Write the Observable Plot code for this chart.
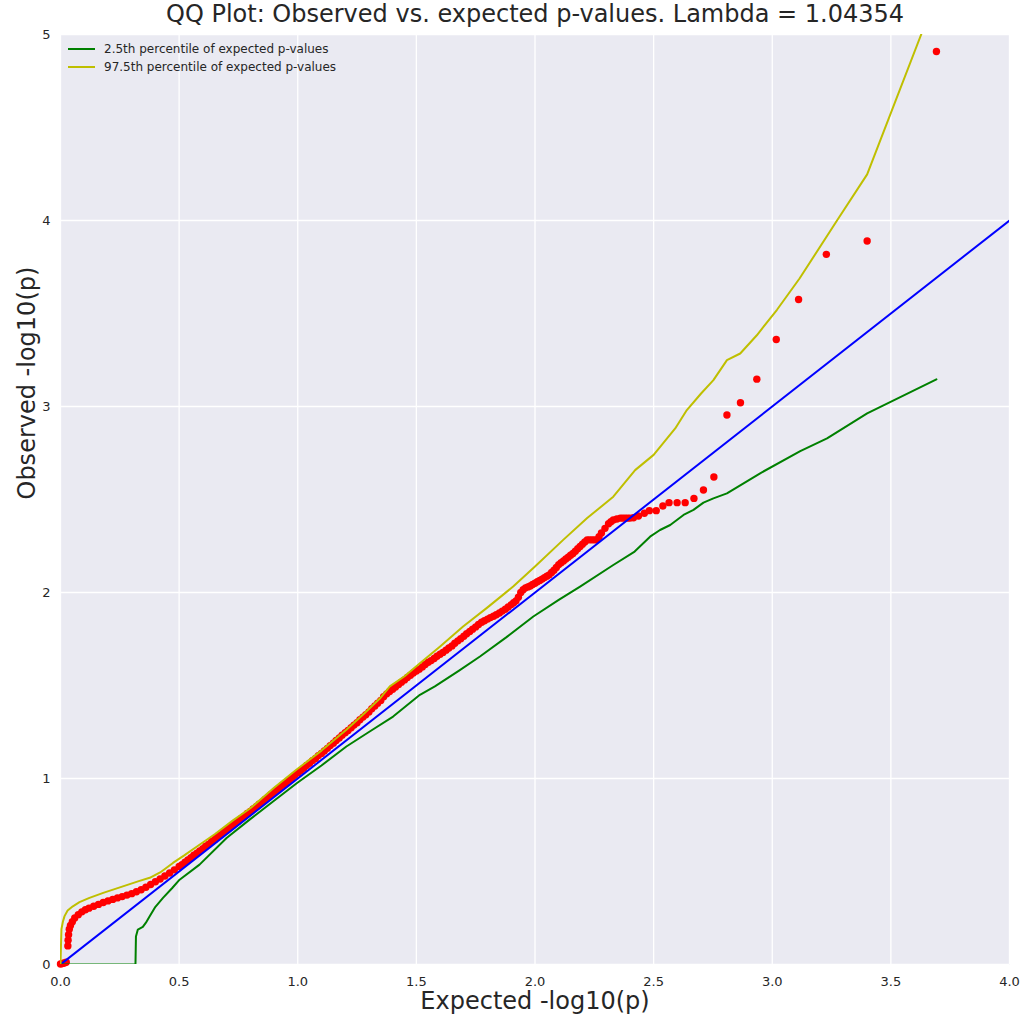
<!DOCTYPE html>
<html>
<head>
<meta charset="utf-8">
<script src="https://cdn.jsdelivr.net/npm/d3@7"></script>
<script src="https://cdn.jsdelivr.net/npm/@observablehq/plot@0.6"></script>
<style>
  html, body { margin: 0; padding: 0; background: #ffffff; }
  #wrap { position: relative; width: 1023px; height: 1016px; font-family: "DejaVu Sans", sans-serif; }
  #legend { position: absolute; left: 68px; top: 40px; font-size: 12px; color: #262626; line-height: 18px; }
  #legend .row { display: flex; align-items: center; height: 18px; }
  #legend svg { margin-right: 9px; }
</style>
</head>
<body>
<div id="wrap"><div id="legend"></div></div>
<script>
// ---- Chart text ----
const titleText = "QQ Plot: Observed vs. expected p-values. Lambda = 1.04354";
const xLabel = "Expected -log10(p)";
const yLabel = "Observed -log10(p)";
const legendLabels = ["2.5th percentile of expected p-values", "97.5th percentile of expected p-values"];
const xTicks = [0, 0.5, 1.0, 1.5, 2.0, 2.5, 3.0, 3.5, 4.0];
const yTicks = [0, 1, 2, 3, 4, 5];

// ---- Observed vs expected points ----
const obsX = [0.000,0.008,0.016,0.024,0.031,0.032,0.034,0.037,0.042,0.05,0.06,0.075,0.09,0.105,0.12,0.14,0.16,0.18,0.20,0.22,0.24,0.26,0.28,0.30,0.32,0.34,0.36,0.38,0.40,0.42,0.44,0.46,0.48,
  0.50,0.512,0.525,0.537,0.55,0.562,0.575,0.587,0.60,0.612,0.625,0.637,0.65,0.662,0.675,0.687,0.70,0.712,0.725,0.737,0.75,0.762,0.775,0.787,0.80,0.812,0.825,0.837,0.85,0.862,0.875,0.887,0.90,0.912,0.925,0.937,0.95,0.962,0.975,0.987,
  1.00,1.012,1.025,1.037,1.05,1.062,1.075,1.087,1.10,1.112,1.125,1.137,1.15,1.162,1.175,1.187,1.20,1.212,1.225,1.237,1.25,1.262,1.275,1.287,1.30,1.312,1.325,1.337,1.35,1.362,1.375,1.387,1.40,1.412,1.425,1.437,1.45,1.462,1.475,1.487,
  1.50,1.512,1.525,1.537,1.55,1.562,1.575,1.587,1.60,1.612,1.625,1.637,1.65,1.662,1.675,1.687,1.70,1.712,1.725,1.737,1.75,1.762,1.775,1.787,1.80,1.812,1.825,1.837,1.85,1.862,1.875,1.887,1.90,1.91,1.92,1.93,1.94,1.95,1.96,1.97,1.98,1.99,
  2.00,2.01,2.02,2.03,2.04,2.05,2.06,2.07,2.08,2.09,2.10,2.11,2.12,2.13,2.14,2.15,2.16,2.17,2.18,2.19,2.20,2.21,2.22,2.23,2.24,2.25,2.26,2.27,2.28,2.295,2.31,2.32,2.33,2.345,2.36,2.37,2.38,2.39,2.40,2.415,2.436,2.461,2.482,
  2.511,2.539,2.565,2.599,2.633,2.670,2.710,2.754,2.809,2.866,2.935,3.017,3.111,3.228,3.40,3.692];
const obsY = [0.003,0.005,0.008,0.012,0.10,0.13,0.16,0.19,0.21,0.23,0.25,0.268,0.283,0.294,0.303,0.313,0.323,0.333,0.342,0.350,0.358,0.365,0.373,0.381,0.391,0.402,0.415,0.43,0.445,0.46,0.476,0.492,0.509,
  0.527,0.537,0.55,0.562,0.574,0.587,0.598,0.611,0.623,0.636,0.647,0.661,0.672,0.686,0.697,0.711,0.722,0.736,0.747,0.761,0.772,0.785,0.797,0.812,0.823,0.836,0.848,0.862,0.873,0.888,0.899,0.914,0.925,0.938,0.95,0.965,0.976,0.99,1.002,1.017,
  1.03,1.042,1.055,1.07,1.082,1.096,1.108,1.123,1.135,1.148,1.162,1.177,1.19,1.204,1.218,1.233,1.246,1.258,1.273,1.287,1.30,1.316,1.33,1.343,1.358,1.375,1.39,1.405,1.42,1.44,1.455,1.468,1.48,1.492,1.505,1.518,1.53,1.543,1.555,1.567,
  1.578,1.588,1.60,1.613,1.625,1.634,1.645,1.657,1.668,1.678,1.69,1.702,1.713,1.727,1.74,1.752,1.765,1.778,1.79,1.803,1.815,1.828,1.84,1.848,1.857,1.865,1.872,1.88,1.89,1.90,1.91,1.922,1.935,1.945,1.955,1.975,2.00,2.015,2.025,2.03,2.035,2.043,
  2.05,2.058,2.065,2.072,2.08,2.088,2.095,2.108,2.12,2.135,2.15,2.16,2.17,2.18,2.19,2.20,2.21,2.222,2.235,2.247,2.26,2.272,2.283,2.283,2.283,2.283,2.283,2.30,2.32,2.345,2.37,2.38,2.39,2.395,2.40,2.40,2.40,2.40,2.40,2.402,2.411,2.426,2.44,
  2.44,2.465,2.483,2.483,2.483,2.506,2.551,2.621,2.954,3.020,3.147,3.360,3.575,3.818,3.89,4.909];

// ---- 97.5th percentile line ----
const upX = [0.0,0.002,0.004,0.01,0.017,0.03,0.052,0.08,0.122,0.18,0.263,0.33,0.376,0.42,0.474,0.52,0.586,0.65,0.727,0.80,0.90,0.994,1.10,1.205,1.28,1.346,1.388,1.45,1.515,1.60,1.697,1.80,1.908,2.00,2.119,2.22,2.33,2.422,2.50,2.591,2.640,2.70,2.752,2.809,2.865,2.935,3.02,3.115,3.273,3.40,3.629,3.692];
const upY = [0.0,0.1,0.19,0.23,0.26,0.29,0.313,0.335,0.358,0.385,0.42,0.448,0.466,0.495,0.546,0.585,0.644,0.70,0.775,0.84,0.95,1.047,1.15,1.262,1.35,1.43,1.495,1.55,1.62,1.71,1.817,1.92,2.032,2.14,2.283,2.40,2.515,2.658,2.74,2.882,2.981,3.07,3.142,3.249,3.285,3.383,3.52,3.688,4.00,4.248,5.004,5.20];

// ---- 2.5th percentile line ----
const loX = [0,0.316,0.318,0.326,0.347,0.36,0.376,0.40,0.432,0.47,0.502,0.586,0.70,0.797,0.90,0.997,1.10,1.205,1.30,1.402,1.515,1.578,1.68,1.768,1.88,1.993,2.10,2.19,2.33,2.42,2.485,2.527,2.570,2.626,2.668,2.710,2.752,2.809,2.949,3.118,3.231,3.40,3.692];
const loY = [0,0,0.15,0.188,0.202,0.225,0.26,0.31,0.358,0.41,0.456,0.537,0.68,0.779,0.88,0.976,1.07,1.172,1.25,1.333,1.45,1.495,1.58,1.656,1.76,1.871,1.96,2.032,2.148,2.22,2.30,2.336,2.363,2.417,2.444,2.483,2.506,2.533,2.641,2.760,2.829,2.963,3.146];

// ---- Identity line ----
const diagX = [0, 4];
const diagY = [0, 4];

const colors = { obs: "#ff0000", diag: "#0000ff", lo: "#008000", up: "#bfbf00" };

const obs = obsX.map((x, i) => ({x, y: obsY[i]}));
const up = upX.map((x, i) => ({x, y: upY[i]}));
const lo = loX.map((x, i) => ({x, y: loY[i]}));
const diag = diagX.map((x, i) => ({x, y: diagY[i]}));

const chart = Plot.plot({
  width: 1023,
  height: 1016,
  marginLeft: 60,
  marginRight: 14,
  marginTop: 34,
  marginBottom: 52,
  style: { fontFamily: "DejaVu Sans, sans-serif", color: "#262626", background: "white" },
  x: { domain: [0, 4] },
  y: { domain: [0, 5] },
  marks: [
    Plot.frame({ fill: "#EAEAF2", stroke: null }),
    Plot.gridX(xTicks, { stroke: "white", strokeOpacity: 1, strokeWidth: 1.3 }),
    Plot.gridY(yTicks, { stroke: "white", strokeOpacity: 1, strokeWidth: 1.3 }),
    Plot.axisX(xTicks, { tickSize: 0, tickPadding: 12, tickFormat: d3.format(".1f"), fontSize: 13, label: null, fill: "#262626" }),
    Plot.axisY(yTicks, { tickSize: 0, tickPadding: 10, tickFormat: d3.format("d"), fontSize: 13, label: null, fill: "#262626" }),
    Plot.dot(obs, { x: "x", y: "y", r: 3.7, fill: colors.obs, stroke: null }),
    Plot.line(diag, { x: "x", y: "y", stroke: colors.diag, strokeWidth: 2, clip: true }),
    Plot.line(lo, { x: "x", y: "y", stroke: colors.lo, strokeWidth: 2, clip: true }),
    Plot.line(up, { x: "x", y: "y", stroke: colors.up, strokeWidth: 2, clip: true }),
    Plot.text([titleText], { frameAnchor: "top", dy: -20, lineAnchor: "middle", fontSize: 24, fill: "#262626" }),
    Plot.text([xLabel], { frameAnchor: "bottom", dy: 37, lineAnchor: "middle", fontSize: 24, fill: "#262626" }),
    Plot.text([yLabel], { frameAnchor: "left", dx: -33, rotate: -90, lineAnchor: "middle", fontSize: 24, fill: "#262626" })
  ]
});
const wrap = document.getElementById("wrap");
wrap.insertBefore(chart, wrap.firstChild);

// legend
const legend = document.getElementById("legend");
[[colors.lo, legendLabels[0]], [colors.up, legendLabels[1]]].forEach(([c, t]) => {
  const row = document.createElement("div");
  row.className = "row";
  row.innerHTML = `<svg width="27" height="4"><line x1="0" x2="27" y1="2" y2="2" stroke="${c}" stroke-width="2"/></svg><span>${t}</span>`;
  legend.appendChild(row);
});
</script>
</body>
</html>
